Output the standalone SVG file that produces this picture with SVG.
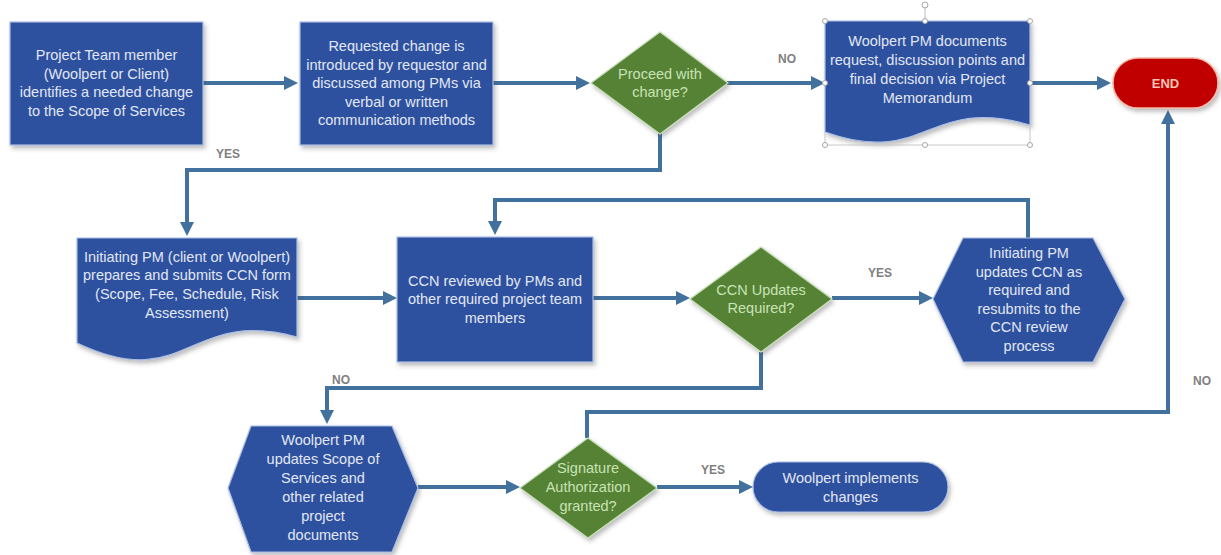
<svg xmlns="http://www.w3.org/2000/svg" width="1221" height="555" viewBox="0 0 1221 555">
<defs>
<style>
.blue{fill:#2F519F;stroke:#A9BDE3;stroke-width:1.2;filter:url(#sh)}
.green{fill:#548235;stroke:#C5DDB5;stroke-width:1.2;filter:url(#sh)}
.red{fill:#C00000;stroke:#F4B6A6;stroke-width:1.5;filter:url(#sh)}
.t{font-family:"Liberation Sans",Arial,sans-serif;font-size:14.5px;text-anchor:middle;fill:#E1E7F4}
.tg{font-family:"Liberation Sans",Arial,sans-serif;font-size:14.5px;text-anchor:middle;fill:#C9E2B6}
.lbl{font-family:"Liberation Sans",Arial,sans-serif;font-size:12px;font-weight:bold;text-anchor:middle;fill:#7F7F7F}
.c{fill:none;stroke:#41719C;stroke-width:4;marker-end:url(#ah)}
.h{fill:#fff;stroke:#A6A6A6;stroke-width:1}
</style>
<filter id="sh" x="-10%" y="-10%" width="125%" height="130%">
<feDropShadow dx="2" dy="3" stdDeviation="2" flood-color="#404040" flood-opacity="0.35"/>
</filter>
<marker id="ah" viewBox="0 0 10 10" refX="0" refY="5" markerWidth="14" markerHeight="16" markerUnits="userSpaceOnUse" orient="auto">
<path d="M0,0 L10,5 L0,10 Z" fill="#41719C"/>
</marker>
</defs>
<rect width="1221" height="555" fill="#fff"/>

<g id="connectors">
<path class="c" d="M203,83 H284"/>
<path class="c" d="M493,83 H576"/>
<path class="c" d="M727,83 H811"/>
<path class="c" d="M1030,83 H1097"/>
<path class="c" d="M660,133 V170 H187 V222"/>
<path class="c" d="M297,298 H383"/>
<path class="c" d="M593,298 H676"/>
<path class="c" d="M832,298 H919"/>
<path class="c" d="M1028,238 V200 H495 V221"/>
<path class="c" d="M761,352 V388 H327 V410"/>
<path class="c" d="M418,487 H506"/>
<path class="c" d="M657,487 H739"/>
<path class="c" d="M587,438 V412 H1168 V124"/>
<text class="lbl" x="228" y="158">YES</text>
<text class="lbl" x="787" y="63">NO</text>
<text class="lbl" x="880" y="277">YES</text>
<text class="lbl" x="341" y="384">NO</text>
<text class="lbl" x="713" y="474">YES</text>
<text class="lbl" x="1202" y="385">NO</text>
</g>

<g id="n1">
<rect class="blue" x="10" y="22" width="193" height="123"/>
<text class="t"><tspan x="106.5" y="60">Project Team member</tspan><tspan x="106.5" y="79">(Woolpert or Client)</tspan><tspan x="106.5" y="97">identifies a needed change</tspan><tspan x="106.5" y="116">to the Scope of Services</tspan></text>
</g>

<g id="n2">
<rect class="blue" x="300" y="22" width="193" height="123"/>
<text class="t"><tspan x="396.5" y="51">Requested change is</tspan><tspan x="396.5" y="70">introduced by requestor and</tspan><tspan x="396.5" y="88">discussed among PMs via</tspan><tspan x="396.5" y="107">verbal or written</tspan><tspan x="396.5" y="125">communication methods</tspan></text>
</g>

<g id="n3">
<polygon class="green" points="660,32 728,83 660,134 591,83"/>
<text class="tg"><tspan x="660" y="79">Proceed with</tspan><tspan x="660" y="97">change?</tspan></text>
</g>

<g id="n4">
<path class="blue" d="M825,21 H1030 V125 C927,95 927,168 825,132 Z"/>
<text class="t"><tspan x="927.5" y="46">Woolpert PM documents</tspan><tspan x="927.5" y="65">request, discussion points and</tspan><tspan x="927.5" y="84">final decision via Project</tspan><tspan x="927.5" y="103">Memorandum</tspan></text>
<g id="selection">
<line x1="825" y1="145" x2="1030" y2="145" stroke="#C8C8C8" stroke-width="1"/>
<line x1="825" y1="132" x2="825" y2="145" stroke="#C8C8C8" stroke-width="1"/>
<line x1="1030" y1="125" x2="1030" y2="145" stroke="#C8C8C8" stroke-width="1"/>
<line x1="925" y1="8" x2="925" y2="21" stroke="#BBBBBB" stroke-width="1"/>
<circle class="h" cx="925" cy="5" r="3"/>
<circle class="h" cx="825" cy="21" r="2.5"/>
<circle class="h" cx="925" cy="21" r="2.5"/>
<circle class="h" cx="1030" cy="21" r="2.5"/>
<circle class="h" cx="825" cy="83" r="2.5"/>
<circle class="h" cx="1030" cy="83" r="2.5"/>
<circle class="h" cx="825" cy="145" r="2.5"/>
<circle class="h" cx="925" cy="145" r="2.5"/>
<circle class="h" cx="1030" cy="145" r="2.5"/>
</g>
</g>

<g id="n5">
<rect class="red" x="1113" y="58" width="105" height="50" rx="25"/>
<text class="lbl" x="1165.5" y="88" style="fill:#F6C4B4;font-size:13px">END</text>
</g>

<g id="n6">
<path class="blue" d="M77,238 H297 V337 C187,307 187,395 77,343 Z"/>
<text class="t"><tspan x="187" y="262">Initiating PM (client or Woolpert)</tspan><tspan x="187" y="280">prepares and submits CCN form</tspan><tspan x="187" y="299">(Scope, Fee, Schedule, Risk</tspan><tspan x="187" y="318">Assessment)</tspan></text>
</g>

<g id="n7">
<rect class="blue" x="397" y="237" width="196" height="125"/>
<text class="t"><tspan x="495" y="286">CCN reviewed by PMs and</tspan><tspan x="495" y="304">other required project team</tspan><tspan x="495" y="323">members</tspan></text>
</g>

<g id="n8">
<polygon class="green" points="761,247 832,299 761,352 690,299"/>
<text class="tg"><tspan x="761" y="295">CCN Updates</tspan><tspan x="761" y="313">Required?</tspan></text>
</g>

<g id="n9">
<polygon class="blue" points="933,299 963,238 1093,238 1125,299 1093,362 963,362"/>
<text class="t"><tspan x="1029" y="258">Initiating PM</tspan><tspan x="1029" y="277">updates CCN as</tspan><tspan x="1029" y="295">required and</tspan><tspan x="1029" y="314">resubmits to the</tspan><tspan x="1029" y="332">CCN review</tspan><tspan x="1029" y="351">process</tspan></text>
</g>

<g id="n10">
<polygon class="blue" points="228,488 251,426 392,426 418,488 392,552 251,552"/>
<text class="t"><tspan x="323" y="445">Woolpert PM</tspan><tspan x="323" y="464">updates Scope of</tspan><tspan x="323" y="483">Services and</tspan><tspan x="323" y="502">other related</tspan><tspan x="323" y="521">project</tspan><tspan x="323" y="540">documents</tspan></text>
</g>

<g id="n11">
<polygon class="green" points="588,438 657,488 588,538 520,488"/>
<text class="tg"><tspan x="588" y="473">Signature</tspan><tspan x="588" y="492">Authorization</tspan><tspan x="588" y="511">granted?</tspan></text>
</g>

<g id="n12">
<rect class="blue" x="753" y="462" width="195" height="50" rx="25"/>
<text class="t"><tspan x="850.5" y="483">Woolpert implements</tspan><tspan x="850.5" y="502">changes</tspan></text>
</g>
</svg>
